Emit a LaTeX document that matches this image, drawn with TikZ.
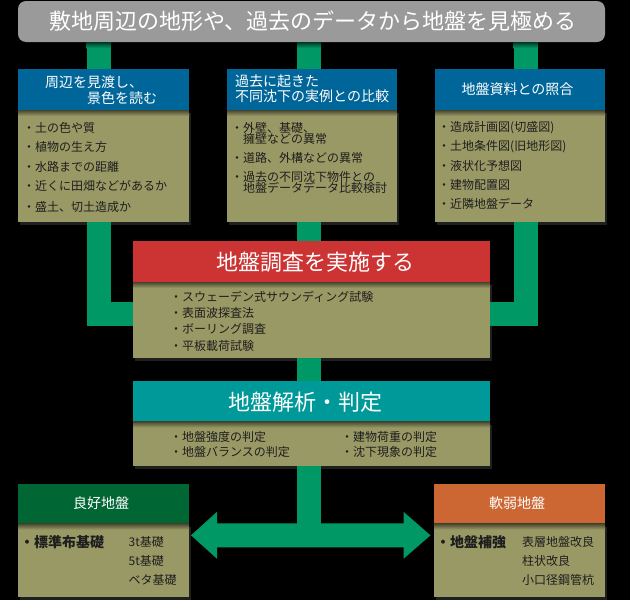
\documentclass[tikz,border=0pt]{standalone}
\usepackage{fontspec}
\setmainfont{Noto Sans CJK JP}
\usetikzlibrary{calc,shadows}
\definecolor{grayt}{HTML}{9A9A9A}
\definecolor{blueh}{HTML}{006699}
\definecolor{olivb}{HTML}{999966}
\definecolor{connc}{HTML}{009966}
\definecolor{redh}{HTML}{CC3333}
\definecolor{tealh}{HTML}{009999}
\definecolor{greenh}{HTML}{006633}
\definecolor{orangeh}{HTML}{CC6633}
\definecolor{txtc}{HTML}{1E1E1E}
\begin{document}
\begin{tikzpicture}[x=1pt,y=-1pt,
  box/.style={rectangle, inner sep=0pt, outer sep=0pt, anchor=north west},
  hdr/.style={box, minimum height=41pt},
  bdy/.style={box, fill=olivb, drop shadow={shadow xshift=2pt, shadow yshift=-3pt, fill=white, opacity=0.12}},
  ttl/.style={inner sep=0pt, text=white, font=\fontsize{22}{26}\selectfont},
  htx/.style={inner sep=0pt, text=white, font=\fontsize{14}{16}\selectfont},
  btx/.style={inner sep=0pt, anchor=west, text=txtc, font=\fontsize{12}{14}\selectfont},
  bbx/.style={inner sep=0pt, anchor=west, text=txtc, font=\fontsize{14}{16}\selectfont\bfseries},
  conn/.style={draw=connc, line width=24pt, line cap=butt, line join=miter},
  hshade/.style={top color=olivb!45!black, bottom color=olivb},
  cshade/.style={top color=connc!35!black, bottom color=connc}
]
% background
\fill[black] (0,0) rectangle (630,600);

% title
\node[box, fill=grayt, rounded corners=8pt, minimum width=587pt, minimum height=41pt] (title) at (18,1) {};
\node[ttl] (titletxt) at (313,21.5) {敷地周辺の地形や、過去のデータから地盤を見極める};

% three upper boxes
\node[hdr, fill=blueh, minimum width=171pt] (h1) at (18,69) {};
\node[bdy, minimum width=171pt, minimum height=112pt] (b1) at (18,110) {};
\node[hdr, fill=blueh, minimum width=170pt] (h2) at (227,69) {};
\node[bdy, minimum width=170pt, minimum height=112pt] (b2) at (227,110) {};
\node[hdr, fill=blueh, minimum width=170pt] (h3) at (435,69) {};
\node[bdy, minimum width=170pt, minimum height=112pt] (b3) at (435,110) {};

% red box
\node[hdr, fill=redh, minimum width=357pt] (rh) at (133,241) {};
\node[bdy, minimum width=357pt, minimum height=76pt] (rb) at (133,282) {};
% teal box
\node[hdr, fill=tealh, minimum width=357pt, minimum height=40.5pt] (th) at (133,381) {};
\node[bdy, minimum width=357pt, minimum height=44.5pt] (tb) at (133,421.5) {};
% bottom boxes
\node[hdr, fill=greenh, minimum width=171pt, minimum height=40pt] (gh) at (18,483.5) {};
\node[bdy, minimum width=171pt, minimum height=73pt] (gb) at (18,523.5) {};
\node[hdr, fill=orangeh, minimum width=171pt, minimum height=40pt] (oh) at (434,483.5) {};
\node[bdy, minimum width=171pt, minimum height=73pt] (ob) at (434,523.5) {};

% header shadows on bodies
\foreach \h in {h1,h2,h3,rh,th,gh,oh}{
  \shade[hshade] (\h.south west) rectangle ($(\h.south east)+(0,6)$);
}

% connectors
\draw[conn] ([xshift=-5pt]h1.north |- title.south) -- ([xshift=-5pt]h1.north);
\draw[conn] ([xshift=-3pt]h2.north |- title.south) -- ([xshift=-3pt]h2.north);
\draw[conn] ([xshift=5.5pt]h3.north |- title.south) -- ([xshift=5.5pt]h3.north);
\shade[cshade] ($(h1.north |- title.south)+(-17,0)$) rectangle ($(h1.north |- title.south)+(7,6)$);
\shade[cshade] ($(h2.north |- title.south)+(-15,0)$) rectangle ($(h2.north |- title.south)+(9,6)$);
\shade[cshade] ($(h3.north |- title.south)+(-6.5,0)$) rectangle ($(h3.north |- title.south)+(17.5,6)$);

\draw[conn] ([xshift=-5pt]b1.south) |- ($(rb.west)+(0,-6.5)$);
\draw[conn] ([xshift=5.5pt]b3.south) |- ($(rb.east)+(0,-6.5)$);
\draw[conn] ([xshift=-3pt]b2.south) -- ([xshift=-3pt]b2.south |- rh.north);
\draw[conn] ([xshift=-2.5pt]rb.south) -- ([xshift=-2.5pt]rb.south |- th.north);

% double arrow
\coordinate (al) at (191,535.3);
\coordinate (ar) at (430.5,535.3);
\draw[conn] ([xshift=-2.5pt]tb.south) -- ([xshift=-2.5pt]tb.south |- al);
\fill[connc] (al) -- ($(al)+(26,-23.5)$) -- ($(al)+(26,-12)$) -- ($(ar)+(-27,-12)$) -- ($(ar)+(-27,-23.5)$)
  -- (ar) -- ($(ar)+(-27,23.5)$) -- ($(ar)+(-27,12)$) -- ($(al)+(26,12)$) -- ($(al)+(26,23.5)$) -- cycle;

% header texts
\node[htx, anchor=west] (h1a) at (45,82) {周辺を見渡し、};
\node[htx, anchor=west] (h1b) at (87,98) {景色を読む};
\node[htx, anchor=west] (h2a) at (235,81) {過去に起きた};
\node[htx, anchor=west] (h2b) at (235,96) {不同沈下の実例との比較};
\node[htx] (h3a) at (517.5,89) {地盤資料との照合};
\node[ttl] (rha) at (315.5,261.7) {地盤調査を実施する};
\node[ttl] (tha) at (305,401.7) {地盤解析・判定};
\node[htx] (gha) at (101,503.3) {良好地盤};
\node[htx] (oha) at (517,503.3) {軟弱地盤};

% body texts
\node[btx] (b1a) at (23,128) {・土の色や質};
\node[btx] (b1b) at (23,147) {・植物の生え方};
\node[btx] (b1c) at (23,166.5) {・水路までの距離};
\node[btx] (b1d) at (23,186) {・近くに田畑などがあるか};
\node[btx] (b1e) at (23,206.5) {・盛土、切土造成か};

\node[btx] (b2a) at (231,127.5) {・外壁、基礎、};
\node[btx] (b2b) at (243,138.8) {擁壁などの異常};
\node[btx] (b2c) at (231,157.5) {・道路、外構などの異常};
\node[btx] (b2d) at (231,176.7) {・過去の不同沈下物件との};
\node[btx] (b2e) at (243,188.2) {地盤データデータ比較検討};

\node[btx] (b3a) at (438,128) {・造成計画図(切盛図)};
\node[btx] (b3b) at (438,147) {・土地条件図(旧地形図)};
\node[btx] (b3c) at (438,165.5) {・液状化予想図};
\node[btx] (b3d) at (438,184.5) {・建物配置図};
\node[btx] (b3e) at (438,204) {・近隣地盤データ};

\node[btx] (rba) at (170,296.7) {・スウェーデン式サウンディング試験};
\node[btx] (rbb) at (170,312.9) {・表面波探査法};
\node[btx] (rbc) at (170,329.2) {・ボーリング調査};
\node[btx] (rbd) at (170,345.5) {・平板載荷試験};

\node[btx] (tba) at (170,436.7) {・地盤強度の判定};
\node[btx] (tbb) at (170,452.3) {・地盤バランスの判定};
\node[btx] (tbc) at (341,436.7) {・建物荷重の判定};
\node[btx] (tbd) at (341,452.3) {・沈下現象の判定};

\node[bbx] (gba) at (20,541.7) {・標準布基礎};
\node[btx] (gbb) at (128.5,541.7) {3t基礎};
\node[btx] (gbc) at (128.5,560.7) {5t基礎};
\node[btx] (gbd) at (128.5,580) {ベタ基礎};

\node[bbx] (oba) at (436,541.7) {・地盤補強};
\node[btx] (obb) at (522,541.7) {表層地盤改良};
\node[btx] (obc) at (522,560.7) {柱状改良};
\node[btx] (obd) at (522,580) {小口径鋼管杭};
\end{tikzpicture}
\end{document}
